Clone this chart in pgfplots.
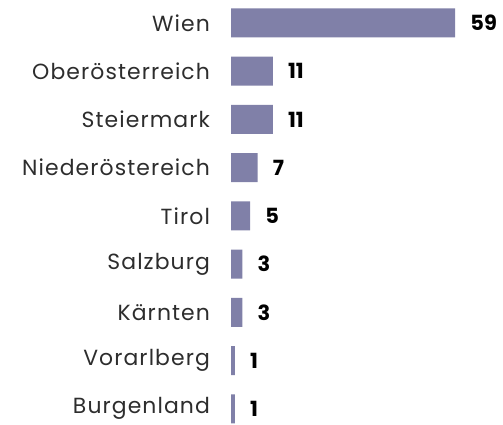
\documentclass[border=0pt]{standalone}
\usepackage{pgfplots}
\pgfplotsset{compat=1.18}
\usepackage{fontspec}
\setmainfont{Poppins}
\newfontfamily\labfont[LetterSpace=5]{Poppins}
\definecolor{barc}{RGB}{128,128,168}
\definecolor{labc}{RGB}{45,45,45}
\begin{document}
\begin{tikzpicture}
\begin{axis}[
  xbar, x=3.8bp, y=48.25bp,
  y dir=reverse,
  xmin=0, xmax=71.58,
  ymin=-0.4767, ymax=8.3316,
  bar width=29bp,
  axis lines*=left,
  axis line style={draw=none},
  ytick={0,...,8},
  yticklabels={Wien,Oberösterreich,Steiermark,Niederöstereich,Tirol,Salzburg,Kärnten,Vorarlberg,Burgenland},
  yticklabel style={font=\labfont\fontsize{22}{24}\selectfont, text=labc, anchor=east, inner sep=0pt, xshift=-21bp, text width=210bp, align=right},
  major tick length=0pt,
  tick style={draw=none},
  xtick=\empty,
  clip=false,
  point meta=explicit symbolic,
  nodes near coords,
  nodes near coords style={font=\fontsize{21}{23}\selectfont\bfseries, text=black, anchor=west, inner sep=0pt, xshift=15bp},
]
\addplot[fill=barc, draw=none] coordinates {(59,0) [59] (11,1) [11] (11,2) [11] (7,3) [7] (5,4) [5] (3,5) [3] (3,6) [3] (1,7) [1] (1,8) [1]};
\end{axis}
\end{tikzpicture}
\end{document}
